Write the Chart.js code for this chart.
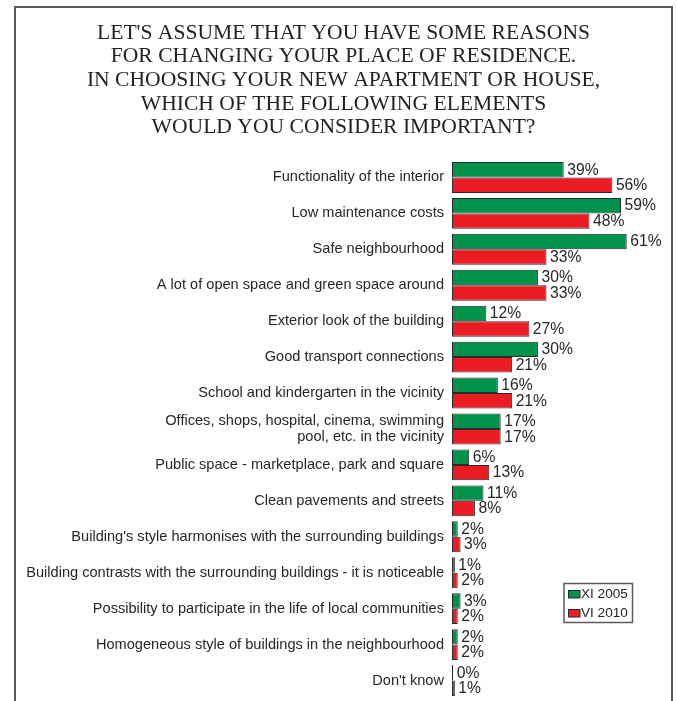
<!DOCTYPE html>
<html>
<head>
<meta charset="utf-8">
<script src="https://cdn.jsdelivr.net/npm/chart.js@4/dist/chart.umd.min.js"></script>
<style>
  html, body { margin: 0; padding: 0; background: #ffffff; }
  canvas { display: block; }
</style>
</head>
<body>
<canvas id="c" width="677" height="701"></canvas>
<script>
const titleLines = [
  "LET'S ASSUME THAT YOU HAVE SOME REASONS",
  "FOR CHANGING YOUR PLACE OF RESIDENCE.",
  "IN CHOOSING YOUR NEW APARTMENT OR HOUSE,",
  "WHICH OF THE FOLLOWING ELEMENTS",
  "WOULD YOU CONSIDER IMPORTANT?"
];
const categories = [
  "Functionality of the interior",
  "Low maintenance costs",
  "Safe neighbourhood",
  "A lot of open space and green space around",
  "Exterior look of the building",
  "Good transport connections",
  "School and kindergarten in the vicinity",
  ["Offices, shops, hospital, cinema, swimming", "pool, etc. in the vicinity"],
  "Public space - marketplace, park and square",
  "Clean pavements and streets",
  "Building's style harmonises with the surrounding buildings",
  "Building contrasts with the surrounding buildings - it is noticeable",
  "Possibility to participate in the life of local communities",
  "Homogeneous style of buildings in the neighbourhood",
  "Don't know"
];
const seriesNames = ["XI 2005", "VI 2010"];
const values2005 = [39, 59, 61, 30, 12, 30, 16, 17, 6, 11, 2, 1, 3, 2, 0];
const values2010 = [56, 48, 33, 33, 27, 21, 21, 17, 13, 8, 3, 2, 2, 2, 1];

const GREEN = "#00924a";
const RED = "#ec1c24";
const TEXT = "#262626";

const framePlugin = {
  id: "frame",
  afterLayout(chart) {
    // centre the title within the page frame
    if (chart.titleBlock) {
      chart.titleBlock.left = 34.5;
      chart.titleBlock.right = 652.5;
    }
  },
  beforeDraw(chart) {
    const ctx = chart.ctx;
    ctx.save();
    ctx.strokeStyle = "#5a5a5a";
    ctx.lineWidth = 2;
    ctx.beginPath();
    ctx.moveTo(15, 705);
    ctx.lineTo(15, 7);
    ctx.lineTo(672, 7);
    ctx.lineTo(672, 705);
    ctx.stroke();
    ctx.restore();
  }
};

const valueLabels = {
  id: "valueLabels",
  afterDatasetsDraw(chart) {
    const ctx = chart.ctx;
    ctx.save();
    ctx.font = "15.7px 'Liberation Sans', Arial, sans-serif";
    ctx.fillStyle = TEXT;
    ctx.textAlign = "left";
    ctx.textBaseline = "middle";
    chart.data.datasets.forEach((ds, di) => {
      const meta = chart.getDatasetMeta(di);
      meta.data.forEach((bar, i) => {
        ctx.fillText(ds.data[i] + "%", bar.x + 3.5, bar.y + 0.5);
      });
    });
    ctx.restore();
  }
};

const customLegend = {
  id: "customLegend",
  afterDraw(chart) {
    const ctx = chart.ctx;
    ctx.save();
    ctx.strokeStyle = "#5a5a5a";
    ctx.lineWidth = 1.5;
    ctx.strokeRect(564, 583.5, 68.5, 39);
    ctx.font = "13.6px 'Liberation Sans', Arial, sans-serif";
    ctx.textBaseline = "middle";
    ctx.textAlign = "left";
    chart.data.datasets.forEach((ds, i) => {
      const y = 590 + i * 19;
      ctx.fillStyle = ds.backgroundColor;
      ctx.fillRect(568, y, 12, 8);
      ctx.strokeStyle = "#2a2a2a";
      ctx.lineWidth = 1;
      ctx.strokeRect(568.5, y + 0.5, 11.5, 7.5);
      ctx.fillStyle = TEXT;
      ctx.fillText(ds.label, 581, y + 4);
    });
    ctx.restore();
  }
};

new Chart(document.getElementById("c"), {
  type: "bar",
  data: {
    labels: categories,
    datasets: [
      { label: seriesNames[0], data: values2005, backgroundColor: GREEN, borderColor: "#2a2a2a", borderWidth: 1, borderSkipped: false, minBarLength: 1.2 },
      { label: seriesNames[1], data: values2010, backgroundColor: RED, borderColor: "#2a2a2a", borderWidth: 1, borderSkipped: false, minBarLength: 1.2 }
    ]
  },
  options: {
    indexAxis: "y",
    responsive: false,
    animation: false,
    events: [],
    layout: { padding: { left: 0, right: 24.5, top: 0, bottom: 2.5 } },
    datasets: { bar: { categoryPercentage: 0.86, barPercentage: 1.0 } },
    scales: {
      x: { display: false, min: 0, max: 70 },
      y: {
        grid: { display: false, drawTicks: false },
        border: { display: false },
        afterFit(scale) {
          scale.width = 452;
          scale.paddingTop = 0;
          scale.paddingBottom = 0;
        },
        ticks: {
          padding: 8,
          color: TEXT,
          autoSkip: false,
          font: { family: "'Liberation Sans', Arial, sans-serif", size: 14.6, lineHeight: 1.05 }
        }
      }
    },
    plugins: {
      legend: { display: false },
      tooltip: { enabled: false },
      title: {
        display: true,
        text: titleLines,
        color: "#222222",
        font: { family: "'Liberation Serif', 'Times New Roman', serif", size: 21.6, weight: "normal", lineHeight: 1.097 },
        padding: { top: 21, bottom: 20 }
      }
    }
  },
  plugins: [framePlugin, valueLabels, customLegend]
});
</script>
</body>
</html>
